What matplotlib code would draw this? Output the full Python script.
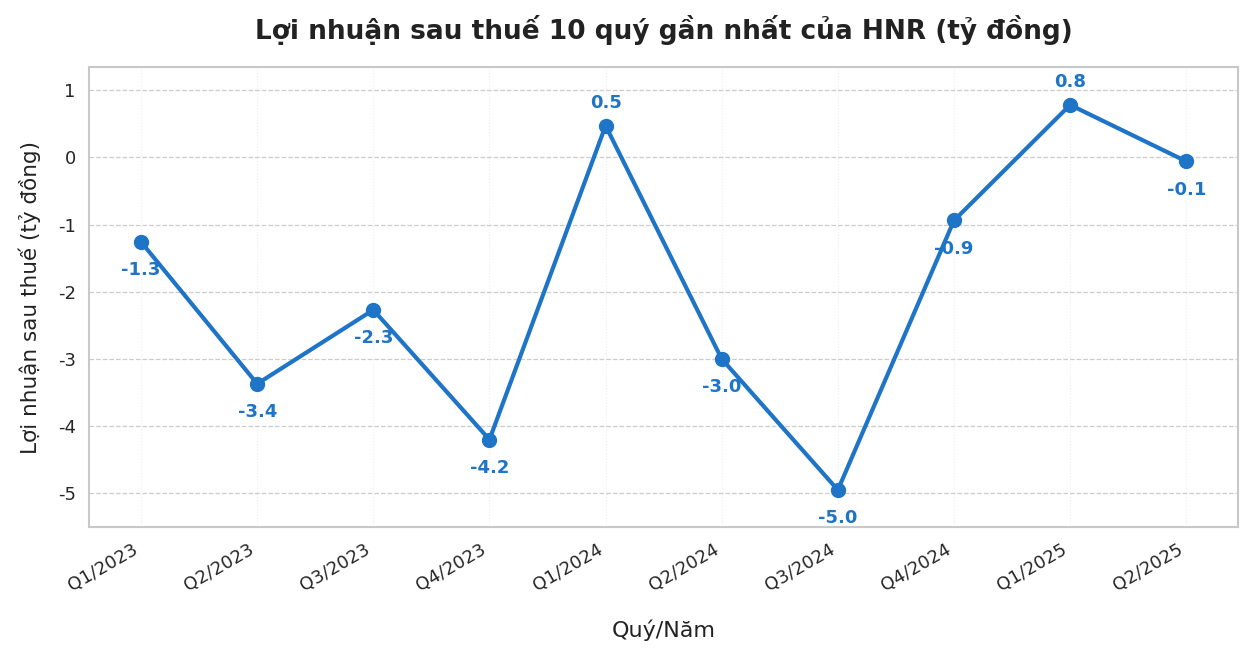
import matplotlib
matplotlib.use("Agg")
import matplotlib.pyplot as plt
import seaborn as sns

sns.set_theme(style="whitegrid")
plt.rcParams["font.family"] = ["DejaVu Sans"]
plt.rcParams["axes.unicode_minus"] = False

quarters = ["Q1/2023", "Q2/2023", "Q3/2023", "Q4/2023", "Q1/2024",
            "Q2/2024", "Q3/2024", "Q4/2024", "Q1/2025", "Q2/2025"]
profit = [-1.26, -3.37, -2.27, -4.20, 0.47, -3.00, -4.95, -0.94, 0.78, -0.06]

COLOR = "#1E74C6"

fig, ax = plt.subplots(figsize=(12.51, 6.53), dpi=100)
x = list(range(len(quarters)))
ax.plot(x, profit, color=COLOR, lw=3, marker="o", markersize=10, zorder=3)

for xi, v in zip(x, profit):
    if v >= 0:
        ax.annotate(f"{v:.1f}", (xi, v), xytext=(0, 10), textcoords="offset points",
                    ha="center", va="bottom", fontsize=13, fontweight="bold", color=COLOR)
    else:
        ax.annotate(f"{v:.1f}", (xi, v), xytext=(0, -14), textcoords="offset points",
                    ha="center", va="top", fontsize=13, fontweight="bold", color=COLOR)

ax.set_xticks(x)
ax.set_xticklabels(quarters, rotation=30, ha="right", fontsize=13)
ax.tick_params(axis="y", labelsize=13)
ax.set_xlim(-0.45, 9.45)
ax.set_ylim(-5.5, 1.34)
ax.set_yticks([1, 0, -1, -2, -3, -4, -5])

ax.grid(axis="y", linestyle="--", color="#cccccc", lw=0.9)
ax.grid(axis="x", linestyle=":", color="#eeeeee", lw=0.8)
for s in ax.spines.values():
    s.set_color("#c8c8c8")
    s.set_linewidth(1.5)

ax.set_title("Lợi nhuận sau thuế 10 quý gần nhất của HNR (tỷ đồng)",
             fontsize=19, fontweight="bold", pad=20, color="#222222")
ax.set_xlabel("Quý/Năm", fontsize=16, labelpad=18, color="#222222")
ax.set_ylabel("Lợi nhuận sau thuế (tỷ đồng)", fontsize=15.5, labelpad=12, color="#222222")

fig.subplots_adjust(left=0.071, right=0.99, top=0.897, bottom=0.193)
fig.savefig("out.png", dpi=100)
